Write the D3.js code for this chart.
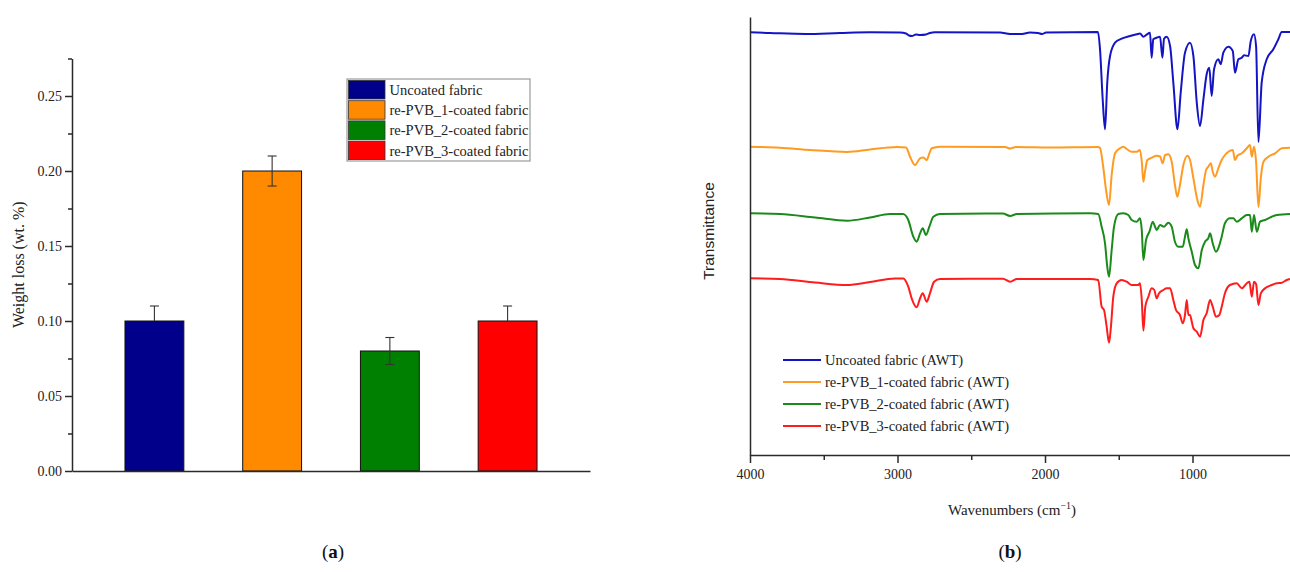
<!DOCTYPE html>
<html><head><meta charset="utf-8">
<script src="https://cdn.jsdelivr.net/npm/d3@7"></script>
<style>body{margin:0;background:#fff} svg{display:block}</style>
</head><body>
<svg id="chart" width="1290" height="572"></svg>
<script>
// ---------- panel (a) data ----------
const categories = ["Uncoated fabric", "re-PVB_1-coated fabric", "re-PVB_2-coated fabric", "re-PVB_3-coated fabric"];
const weightLoss = [0.10, 0.20, 0.08, 0.10];
const weightLossErrUp = [0.01, 0.01, 0.009, 0.01];
const weightLossErrDown = [0, 0.01, 0.009, 0];
const barColors = ["#00008b", "#ff8a00", "#008000", "#ff0000"];
const weightMajorTicks = [0, 0.05, 0.10, 0.15, 0.20, 0.25];
const weightMinorTicks = [0.025, 0.075, 0.125, 0.175, 0.225, 0.275];

// ---------- panel (b) data: [wavenumber, transmittance (a.u., stacked)] ----------
const spectraLabels = ["Uncoated fabric (AWT)", "re-PVB_1-coated fabric (AWT)", "re-PVB_2-coated fabric (AWT)", "re-PVB_3-coated fabric (AWT)"];
const spectraColors = ["#1414c4", "#ff9b22", "#1a8a1a", "#ff1c1c"];
const wnMajorTicks = [4000, 3000, 2000, 1000];
const wnMinorTicks = [3500, 2500, 1500];

const uncoatedSpectrum = [[4000,422.7],[3864,422],[3620,421],[3390,422],[3186,422.7],[2983,422.5],[2942,421.5],[2922,419.5],[2902,419],[2875,420.5],[2847,420],[2807,420.5],[2780,422],[2746,422.7],[2305,422.5],[2237,421],[2156,421],[2102,422.5],[2047,422],[2020,421],[1993,422.5],[1641,423],[1627,405.7],[1609,356],[1593,325.7],[1578,372.3],[1559,399],[1525,412.3],[1480,416.3],[1424,419],[1378,420.7],[1356,421.5],[1333,418.3],[1311,420.3],[1288,422.3],[1277,397.3],[1266,415.7],[1243,417.3],[1220,418.3],[1204,397.3],[1193,416.3],[1175,418.3],[1152,409],[1130,372.3],[1102,325.7],[1080,362.3],[1051,402.3],[1017,412.3],[994,399],[971,352.3],[949,329],[926,355.7],[904,380.7],[886,387.3],[870,359],[854,385.7],[825,395.7],[809,390.7],[791,402.3],[757,408.3],[727,404],[712,382.3],[689,395.7],[666,397.3],[651,399.7],[621,399],[605,414],[583,420.7],[569,409],[553,313],[531,372.3],[497,395.7],[452,405.7],[418,415.7],[395,423],[339,423]];

const pvb1Spectrum = [[4000,308.3],[3797,307.3],[3593,305],[3342,303],[3186,305.5],[3003,308],[2942,307.5],[2915,298.3],[2881,290],[2847,296.7],[2825,297.5],[2802,295],[2784,301.7],[2768,306.7],[2712,308.3],[2271,308],[2237,306.5],[2197,308],[1966,307.5],[1641,308],[1627,307],[1607,290],[1586,265],[1566,250],[1548,280],[1525,301.7],[1492,306.7],[1469,308.3],[1446,306],[1412,303.3],[1378,303.3],[1356,305],[1344,293.3],[1333,273.3],[1322,283.3],[1306,295],[1277,297.3],[1243,299.3],[1220,298.5],[1202,291.7],[1186,300],[1164,300.7],[1141,293.3],[1119,270],[1103,258.3],[1085,270],[1062,290],[1035,299.3],[1017,295],[994,276.7],[967,255],[949,248.3],[926,270],[908,285],[893,288.3],[876,291.7],[863,283.3],[847,278.3],[825,286.7],[802,295],[780,300],[757,303.3],[727,305],[712,295],[696,299.3],[666,301.7],[632,306.7],[610,310],[598,298.3],[583,308.3],[569,293.3],[553,248],[537,276.7],[519,293.3],[485,298.3],[440,301.7],[395,306.7],[339,307.3]];

const pvb2Spectrum = [[4000,241.7],[3797,241],[3559,237.5],[3342,234.3],[3186,237.5],[3051,241],[2963,241],[2927,235],[2893,218.3],[2870,213.3],[2847,221.7],[2829,226.7],[2807,220],[2784,228.3],[2757,238.3],[2712,241],[2285,241.5],[2237,239],[2190,241],[1695,241.7],[1639,241],[1616,228.3],[1593,211.7],[1578,188.3],[1566,178.3],[1548,205],[1532,228.3],[1503,241],[1469,241.7],[1435,240],[1412,235],[1378,233.3],[1356,236.7],[1344,225],[1333,195],[1315,215],[1292,223.3],[1269,233.3],[1254,228.3],[1243,225],[1220,230],[1193,228.3],[1164,232.3],[1141,228.3],[1119,213.3],[1096,208.3],[1066,208.3],[1051,218.3],[1039,225.7],[1028,216.7],[1005,203.3],[983,190],[960,186.7],[937,205],[915,213.3],[893,216.7],[881,221.7],[863,211.7],[841,203.3],[825,206.7],[802,218.3],[780,231.7],[746,236.7],[723,236.7],[700,233.3],[666,236.7],[632,240],[610,240],[598,223.3],[583,240],[564,223.3],[542,233.3],[508,235],[463,238.3],[429,240],[339,241]];

const pvb3Spectrum = [[4000,176.7],[3797,176],[3559,172.5],[3342,170],[3186,173],[3017,176.5],[2961,176.5],[2927,168.3],[2904,156.7],[2870,147.7],[2847,156.7],[2829,161.7],[2802,153.3],[2780,161.7],[2752,173.3],[2712,176],[2285,176.3],[2237,173.3],[2190,176],[1695,176],[1639,175],[1616,148.3],[1600,145],[1582,128.3],[1566,112.3],[1553,128.3],[1537,158.3],[1514,171.7],[1480,175],[1446,173.3],[1412,170],[1367,170],[1356,171.7],[1344,155],[1333,124.3],[1320,148.3],[1299,158.3],[1277,166.7],[1259,165],[1243,156.7],[1227,161.7],[1198,165],[1175,166.7],[1152,166.7],[1130,155],[1112,145],[1085,140],[1066,131.7],[1051,140],[1039,155],[1028,140],[1017,140],[1005,133.3],[994,126.7],[971,123.3],[949,118.3],[926,135],[904,141.7],[881,155],[863,148.3],[841,138.3],[818,140],[802,148.3],[780,161.7],[746,170],[700,171.7],[666,166.7],[632,171.7],[614,173.3],[598,158.3],[583,173.3],[569,171],[553,150],[537,161.7],[508,166.7],[463,170],[429,171.7],[395,172.3],[361,175],[339,176]];

const spectra = [uncoatedSpectrum, pvb1Spectrum, pvb2Spectrum, pvb3Spectrum];

// ---------- drawing ----------
const svg = d3.select("#chart");
const SERIF = "'Liberation Serif', 'Times New Roman', serif";
const textColor = "#222";
const axisColor = "#2a2a2a";

// ---- Panel (a) ----
const xL = d3.scaleLinear().domain([0.3, 4.7]).range([72, 590]);
const yL = d3.scaleLinear().domain([0, 0.275]).range([471, 58.5]);
const barW = xL(1.25) - xL(0.75);

const gA = svg.append("g");

gA.selectAll("rect.bar").data(weightLoss).join("rect")
  .attr("class", "bar")
  .attr("x", (d, i) => xL(i + 1) - barW / 2)
  .attr("y", d => yL(d))
  .attr("width", barW)
  .attr("height", d => yL(0) - yL(d))
  .attr("fill", (d, i) => barColors[i])
  .attr("stroke", "#111").attr("stroke-width", 1);

const capW = 9;
weightLoss.forEach((v, i) => {
  const cx = xL(i + 1), eu = weightLossErrUp[i], ed = weightLossErrDown[i];
  const g = gA.append("g").attr("stroke", "#333").attr("stroke-width", 1.1);
  g.append("line").attr("x1", cx).attr("x2", cx).attr("y1", yL(v - ed)).attr("y2", yL(v + eu));
  g.append("line").attr("x1", cx - capW / 2).attr("x2", cx + capW / 2).attr("y1", yL(v + eu)).attr("y2", yL(v + eu));
  if (ed > 0) {
    g.append("line").attr("x1", cx - capW / 2).attr("x2", cx + capW / 2).attr("y1", yL(v - ed)).attr("y2", yL(v - ed));
  }
});

const yAxisL = gA.append("g").attr("transform", `translate(${xL(0.3)},0)`)
  .call(d3.axisLeft(yL).tickValues(weightMajorTicks).tickFormat(d3.format(".2f")).tickSize(7).tickSizeOuter(0));
const yAxisLMinor = gA.append("g").attr("transform", `translate(${xL(0.3)},0)`)
  .call(d3.axisLeft(yL).tickValues(weightMinorTicks).tickFormat("").tickSize(4).tickSizeOuter(0));
yAxisLMinor.select(".domain").remove();
const xAxisL = gA.append("g").attr("transform", `translate(0,${yL(0)})`)
  .call(d3.axisBottom(xL).tickValues([]).tickSizeOuter(0));
[yAxisL, yAxisLMinor, xAxisL].forEach(a => {
  a.selectAll(".domain, line").attr("stroke", axisColor).attr("stroke-width", 1.5);
  a.selectAll("text").attr("font-family", SERIF).attr("font-size", 14).attr("fill", textColor);
});
yAxisL.selectAll("text").attr("x", -10);

gA.append("text")
  .attr("transform", `translate(24,${yL(0.1375)}) rotate(-90)`)
  .attr("text-anchor", "middle")
  .attr("font-family", SERIF).attr("font-size", 16).attr("fill", textColor)
  .text("Weight loss (wt. %)");

const legA = gA.append("g").attr("transform", "translate(347,79)");
legA.append("rect").attr("width", 183).attr("height", 82).attr("fill", "#fff")
  .attr("stroke", "#9a9a9a").attr("stroke-width", 1.2);
categories.forEach((c, i) => {
  const row = legA.append("g").attr("transform", `translate(0,${1.5 + i * 20.2})`);
  row.append("rect").attr("x", 1.5).attr("width", 36.5).attr("height", 18.5)
    .attr("fill", barColors[i]).attr("stroke", "#333").attr("stroke-width", 0.8);
  row.append("text").attr("x", 42.5).attr("y", 14.5)
    .attr("font-family", SERIF).attr("font-size", 14.5).attr("fill", textColor).text(c);
});

const capA = svg.append("text").attr("x", 333).attr("y", 558).attr("text-anchor", "middle")
  .attr("font-family", SERIF).attr("font-size", 19).attr("fill", "#111");
capA.append("tspan").text("(");
capA.append("tspan").attr("font-weight", "bold").text("a");
capA.append("tspan").text(")");

// ---- Panel (b) ----
const xR = d3.scaleLinear().domain([4000, 339]).range([750, 1290]);
const yR = d3.scaleLinear().domain([0, 438]).range([455, 17]);
const gB = svg.append("g");

const line = d3.line().x(d => xR(d[0])).y(d => yR(d[1])).curve(d3.curveMonotoneX);
gB.selectAll("path.spec").data(spectra).join("path")
  .attr("class", "spec")
  .attr("d", line)
  .attr("fill", "none")
  .attr("stroke", (d, i) => spectraColors[i])
  .attr("stroke-width", 2)
  .attr("stroke-linejoin", "round");

const xAxisR = gB.append("g").attr("transform", `translate(0,${yR(0)})`)
  .call(d3.axisBottom(xR).tickValues(wnMajorTicks).tickFormat(d3.format("d")).tickSize(8).tickSizeOuter(0));
const xAxisRMinor = gB.append("g").attr("transform", `translate(0,${yR(0)})`)
  .call(d3.axisBottom(xR).tickValues(wnMinorTicks).tickFormat("").tickSize(5).tickSizeOuter(0));
xAxisRMinor.select(".domain").remove();
const yAxisR = gB.append("g").attr("transform", `translate(${xR(4000)},0)`)
  .call(d3.axisLeft(yR).tickValues([]).tickSizeOuter(0));
[xAxisR, xAxisRMinor, yAxisR].forEach(a => {
  a.selectAll(".domain, line").attr("stroke", axisColor).attr("stroke-width", 1.5);
  a.selectAll("text").attr("font-family", SERIF).attr("font-size", 14).attr("fill", textColor);
});
xAxisR.selectAll("text").attr("y", 14);

gB.append("text")
  .attr("transform", `translate(714,231) rotate(-90)`)
  .attr("text-anchor", "middle")
  .attr("font-family", "'Liberation Sans', Arial, sans-serif").attr("font-size", 15.5).attr("fill", textColor)
  .text("Transmittance");

const xt = gB.append("text").attr("x", 1012).attr("y", 515).attr("text-anchor", "middle")
  .attr("font-family", SERIF).attr("font-size", 15).attr("fill", textColor);
xt.append("tspan").text("Wavenumbers (cm");
xt.append("tspan").attr("dy", -6).attr("font-size", 10).text("−1");
xt.append("tspan").attr("dy", 6).text(")");

const legB = gB.append("g").attr("transform", "translate(783,360)");
spectraLabels.forEach((c, i) => {
  const row = legB.append("g").attr("transform", `translate(0,${i * 22})`);
  row.append("line").attr("x1", 0).attr("x2", 38).attr("y1", 0).attr("y2", 0)
    .attr("stroke", spectraColors[i]).attr("stroke-width", 2);
  row.append("text").attr("x", 42).attr("y", 5)
    .attr("font-family", SERIF).attr("font-size", 14.5).attr("fill", textColor).text(c);
});

const capB = svg.append("text").attr("x", 1010).attr("y", 558).attr("text-anchor", "middle")
  .attr("font-family", SERIF).attr("font-size", 19).attr("fill", "#111");
capB.append("tspan").text("(");
capB.append("tspan").attr("font-weight", "bold").text("b");
capB.append("tspan").text(")");
</script>
</body></html>
